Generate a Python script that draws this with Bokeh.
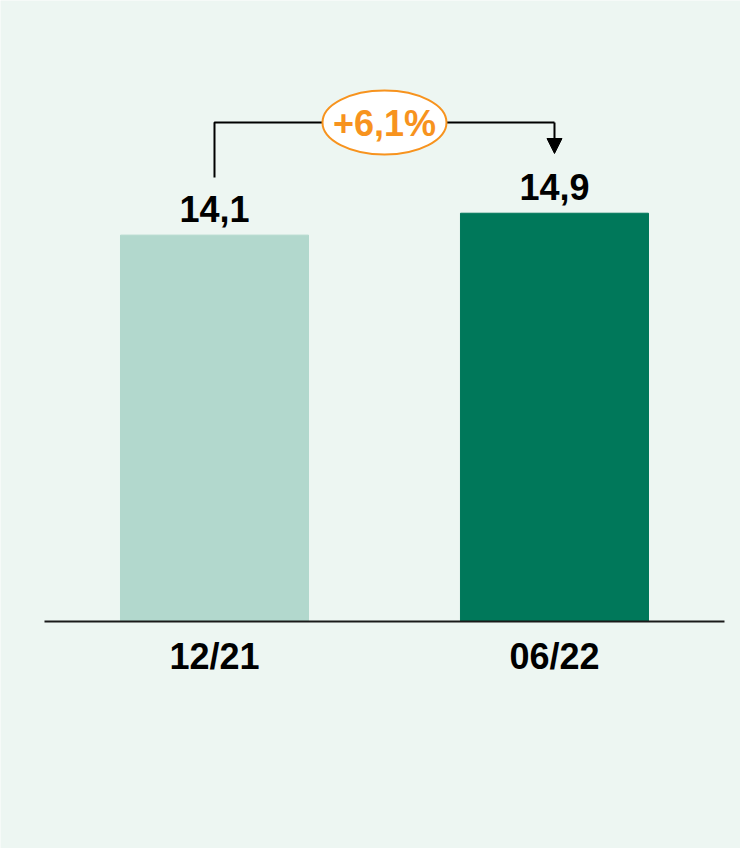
from bokeh.plotting import figure
from bokeh.models import Range1d, ColumnDataSource, Arrow, NormalHead
from bokeh.core.properties import value
from bokeh.embed import file_html
from bokeh.resources import INLINE

# Data
categories = ["12/21", "06/22"]
values = [14.1, 14.9]
value_labels = ["14,1", "14,9"]
change_label = "+6,1%"
bar_colors = ["#B2D8CD", "#00785A"]

FONT = value("Liberation Sans")
BG = "#EDF6F2"
ORANGE = "#F7931E"
FS = "36px"

xs = list(range(len(categories)))

p = figure(width=740, height=848, output_backend="svg", toolbar_location=None,
           x_range=Range1d(-0.6294, 1.5471), y_range=Range1d(-8.285, 22.664),
           x_axis_location=None, y_axis_location=None, min_border=0)
p.background_fill_color = BG
p.border_fill_color = BG
p.outline_line_color = None
p.grid.visible = False

src = ColumnDataSource(dict(x=xs, top=values, color=bar_colors, lab=value_labels, cat=categories))

p.vbar(x="x", top="top", bottom=0, width=0.553, color="color", source=src)

# baseline
p.segment(x0=[xs[0] - 0.5], y0=[0], x1=[xs[-1] + 0.5], y1=[0], line_color="#1a1a1a", line_width=2)

# value labels
p.text(x="x", y="top", text="lab", source=src, text_font=FONT, text_font_style="bold",
       text_font_size=FS, text_align="center", text_baseline="alphabetic",
       y_offset=-26, text_color="#000000")

# category labels
p.text(x="x", y=0, text="cat", source=src, text_font=FONT, text_font_style="bold",
       text_font_size=FS, text_align="center", text_baseline="alphabetic",
       y_offset=35, text_color="#000000")

# bracket
top_y = max(values) + 3.31
start_y = values[0] + 2.1
tip_y = values[1] + 2.18
p.line(x=[xs[0], xs[0], xs[1]], y=[start_y, top_y, top_y], line_color="#000000", line_width=2)
p.add_layout(Arrow(x_start=xs[1], y_start=top_y, x_end=xs[1], y_end=tip_y,
                   line_color="#000000", line_width=2,
                   end=NormalHead(size=15, fill_color="#000000", line_color="#000000", line_width=1)))

# change ellipse
mid_x = (xs[0] + xs[1]) / 2
p.ellipse(x=[mid_x], y=[top_y], width=124, height=64, width_units="screen", height_units="screen",
          fill_color="#FFFFFF", line_color=ORANGE, line_width=2)
p.text(x=[mid_x], y=[top_y], text=[change_label], text_font=FONT, text_font_style="bold",
       text_font_size=FS, text_align="center", text_baseline="alphabetic",
       y_offset=1, text_color=ORANGE)

open("out.html", "w").write(file_html(p, INLINE))
